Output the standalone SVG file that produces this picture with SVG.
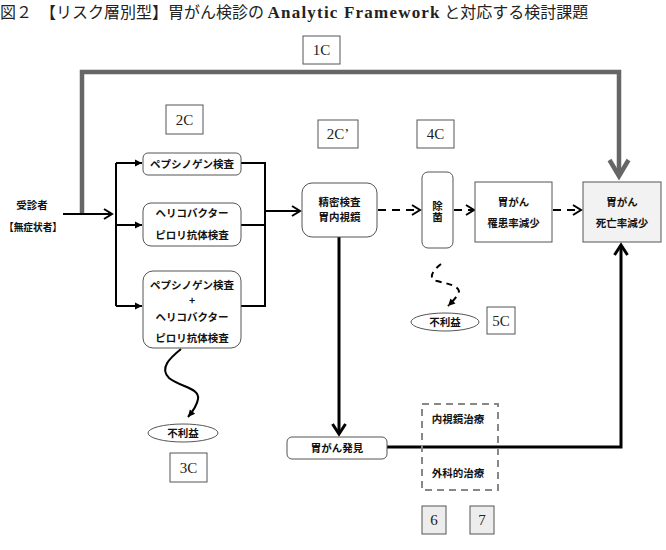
<svg xmlns="http://www.w3.org/2000/svg" width="666" height="550" viewBox="0 0 666 550">
<style>
  .jp { font-family: "Noto Sans CJK JP", "Noto Sans", sans-serif; font-weight: 700; font-size: 10.5px; fill: #111; text-anchor: middle; }
  .lbl { font-family: "Liberation Serif", serif; font-size: 15px; fill: #222; text-anchor: middle; }
  .lbox { fill: #fff; stroke: #555; stroke-width: 1; }
  .gbox { fill: #ededed; stroke: #555; stroke-width: 1; }
  .node { fill: #fff; stroke: #555; stroke-width: 1; }
  .ln { fill: none; stroke: #000; stroke-width: 2; }
  .thick { fill: none; stroke: #000; stroke-width: 3; }
  .dash { fill: none; stroke: #000; stroke-width: 2; stroke-dasharray: 8 6; }
</style>
<defs>
  <marker id="chev" markerUnits="userSpaceOnUse" markerWidth="12" markerHeight="12" refX="9" refY="5.5" orient="auto" overflow="visible">
    <path d="M1,0.5 L9,5.5 L1,10.5" fill="none" stroke="#000" stroke-width="2"/>
  </marker>
  <marker id="chev3" markerUnits="userSpaceOnUse" markerWidth="14" markerHeight="16" refX="11" refY="7" orient="auto" overflow="visible">
    <path d="M1,0.5 L11,7 L1,13.5" fill="none" stroke="#000" stroke-width="3"/>
  </marker>
  <marker id="tri" markerUnits="userSpaceOnUse" markerWidth="8" markerHeight="8" refX="7" refY="3.5" orient="auto" overflow="visible">
    <path d="M0,0 L7,3.5 L0,7 Z" fill="#000"/>
  </marker>
  <marker id="chevG" markerUnits="userSpaceOnUse" markerWidth="22" markerHeight="22" refX="17" refY="10" orient="auto" overflow="visible">
    <path d="M1,0.5 L17,10 L1,19.5" fill="none" stroke="#666" stroke-width="4.5"/>
  </marker>
</defs>
<rect width="666" height="550" fill="#fff"/>

<text x="0" y="18" font-family="Noto Sans CJK JP, sans-serif" font-size="16" fill="#222">図２　【リスク層別型】胃がん検診の <tspan font-family="Liberation Serif, serif" font-weight="700" font-size="17" letter-spacing="1.2">Analytic Framework</tspan> と対応する検討課題</text>

<g id="connectors">
  <path d="M82,214 V72 H619 V176" fill="none" stroke="#666" stroke-width="4.5" marker-end="url(#chevG)"/>
  <path class="ln" d="M63,214 H112" marker-end="url(#chev)"/>
  <path class="ln" d="M116,163 V306"/>
  <path class="ln" d="M116,163 H142" marker-end="url(#tri)"/>
  <path class="ln" d="M116,225 H142" marker-end="url(#tri)"/>
  <path class="ln" d="M116,306 H142" marker-end="url(#tri)"/>
  <path class="ln" d="M241,163 H265 V306 H241"/>
  <path class="ln" d="M241,225 H265"/>
  <path class="ln" d="M265,211 H300" marker-end="url(#chev)"/>
  <path class="dash" d="M378,210 H420" marker-end="url(#chev)"/>
  <path class="dash" d="M454,210 H474" marker-end="url(#chev)"/>
  <path class="dash" d="M553,210 H581" marker-end="url(#chev)"/>
  <path class="thick" d="M339,237 V434" marker-end="url(#chev3)"/>
  <path class="thick" d="M387,447 H621 V245" marker-end="url(#chev3)"/>
  <path class="ln" d="M181,349 C170,358 159,368 169,378 C180,387 200,388 198,399 C197,406 193,411 188,417" marker-end="url(#tri)"/>
  <path class="ln" stroke-dasharray="6 5" d="M441,264 C433,270 427,279 437,281 C448,284 457,285 459,291 C458,296 453,301 448,306" marker-end="url(#tri)"/>
</g>

<g id="title-labels">
  <g id="l1C"><rect class="lbox" x="303" y="36" width="37" height="28"/><text class="lbl" x="321.5" y="55">1C</text></g>
  <g id="l2C"><rect class="lbox" x="166" y="105" width="37" height="29"/><text class="lbl" x="184.5" y="124.5">2C</text></g>
  <g id="l2Cp"><rect class="lbox" x="318" y="120" width="40" height="28"/><text class="lbl" x="338" y="139">2C’</text></g>
  <g id="l4C"><rect class="lbox" x="417" y="120" width="37" height="28"/><text class="lbl" x="435.5" y="139">4C</text></g>
  <g id="l5C"><rect class="lbox" x="487" y="307" width="28" height="27"/><text class="lbl" x="501" y="325.5">5C</text></g>
  <g id="l3C"><rect class="lbox" x="170" y="453" width="37" height="29"/><text class="lbl" x="188.5" y="472.5">3C</text></g>
  <g id="l6"><rect class="gbox" x="422" y="506" width="24" height="28"/><text class="lbl" x="434" y="525">6</text></g>
  <g id="l7"><rect class="gbox" x="470" y="506" width="24" height="28"/><text class="lbl" x="482" y="525">7</text></g>
</g>

<g id="n-jushinsha">
  <text class="jp" x="32" y="209" font-size="11">受診者</text>
  <text class="jp" x="33" y="231" font-size="11" textLength="58" lengthAdjust="spacingAndGlyphs">【無症状者】</text>
</g>
<g id="n-pg">
  <rect class="node" x="143" y="153" width="98" height="22" rx="5"/>
  <text class="jp" x="192" y="168">ペプシノゲン検査</text>
</g>
<g id="n-hp">
  <rect class="node" x="143" y="203" width="98" height="43" rx="8"/>
  <text class="jp" x="192" y="217">ヘリコバクター</text>
  <text class="jp" x="192" y="239">ピロリ抗体検査</text>
</g>
<g id="n-pghp">
  <rect class="node" x="143" y="271" width="98" height="77" rx="10"/>
  <text class="jp" x="192" y="289">ペプシノゲン検査</text>
  <text class="jp" x="192" y="304">+</text>
  <text class="jp" x="192" y="321">ヘリコバクター</text>
  <text class="jp" x="192" y="342">ピロリ抗体検査</text>
</g>
<g id="n-seimitsu">
  <rect class="node" x="302" y="183" width="75" height="54" rx="10"/>
  <text class="jp" x="339.5" y="206" font-size="11">精密検査</text>
  <text class="jp" x="339.5" y="221" font-size="11">胃内視鏡</text>
</g>
<g id="n-jokin">
  <rect class="node" x="422" y="172" width="31" height="76" rx="6"/>
  <text class="jp" x="437.5" y="212" font-size="11" writing-mode="vertical-rl" letter-spacing="1">除菌</text>
</g>
<g id="n-rikan">
  <rect class="node" x="475" y="182" width="77" height="60"/>
  <text class="jp" x="513.5" y="206">胃がん</text>
  <text class="jp" x="513.5" y="227">罹患率減少</text>
</g>
<g id="n-shibou">
  <rect x="583" y="182" width="78" height="60" fill="#f2f2f2" stroke="#555" stroke-width="1"/>
  <text class="jp" x="622" y="206">胃がん</text>
  <text class="jp" x="622" y="227">死亡率減少</text>
</g>
<g id="n-furieki1">
  <ellipse class="node" cx="183" cy="433" rx="35" ry="9"/>
  <text class="jp" x="183" y="437" font-size="11">不利益</text>
</g>
<g id="n-furieki2">
  <ellipse class="node" cx="445" cy="322" rx="34" ry="9"/>
  <text class="jp" x="445" y="326" font-size="11">不利益</text>
</g>
<g id="n-hakken">
  <rect class="node" x="287" y="437" width="100" height="22" rx="5"/>
  <text class="jp" x="337" y="452" font-size="11">胃がん発見</text>
</g>
<g id="n-chiryo">
  <rect x="422" y="404" width="76" height="86" fill="none" stroke="#888" stroke-width="2" stroke-dasharray="7 5"/>
  <text class="jp" x="458" y="422.5" font-size="9.5">内視鏡治療</text>
  <text class="jp" x="458" y="476.5" font-size="9.5">外科的治療</text>
</g>
</svg>
